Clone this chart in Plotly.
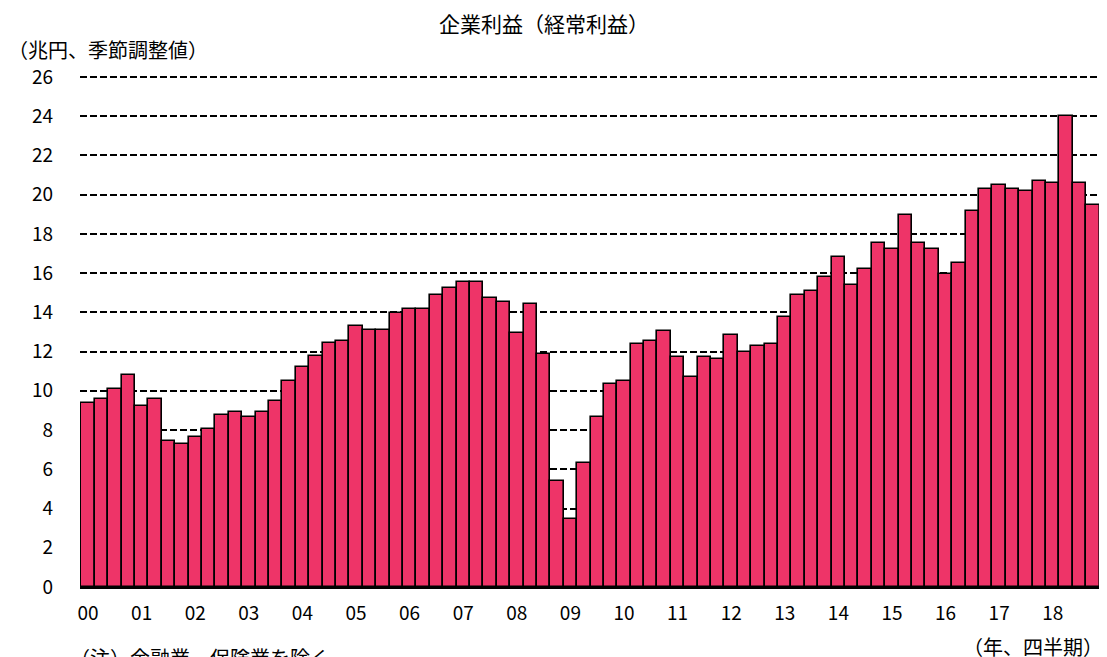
import plotly.graph_objects as go

years = ["00", "01", "02", "03", "04", "05", "06", "07", "08", "09",
         "10", "11", "12", "13", "14", "15", "16", "17", "18"]

profits = [
    9.37, 9.56, 10.09, 10.80,
    9.25, 9.56, 7.45, 7.31,
    7.64, 8.05, 8.76, 8.94,
    8.66, 8.94, 9.47, 10.49,
    11.22, 11.80, 12.42, 12.52,
    13.30, 13.11, 13.11, 13.95,
    14.15, 14.15, 14.86, 15.26,
    15.55, 15.55, 14.73, 14.54,
    12.94, 14.44, 11.90, 5.39,
    3.45, 6.31, 8.66, 10.37,
    10.48, 12.41, 12.52, 13.03,
    11.70, 10.70, 11.70, 11.60,
    12.82, 12.00, 12.31, 12.41,
    13.74, 14.86, 15.07, 15.78,
    16.80, 15.37, 16.19, 17.52,
    17.21, 18.94, 17.52, 17.21,
    15.98, 16.49, 19.15, 20.27,
    20.47, 20.27, 20.17, 20.68,
    20.58, 24.03, 20.58, 19.45,
]

y_ticks = list(range(0, 27, 2))

x_idx = list(range(len(profits)))
year_pos = [i * 4 for i in range(len(years))]

FONT = "Noto Sans CJK JP"

# figure geometry (page has an 8px body margin)
W, H = 1099, 649
L, R, T, B = 72, 6, 65, 70
PW, PH = W - L - R, H - T - B


def px(fx):
    return (fx - L) / PW


def py(fy):
    return (H - B - fy) / PH


fig = go.Figure()
fig.add_trace(go.Bar(
    x=x_idx, y=profits,
    marker=dict(color="#EE3468", line=dict(color="black", width=1.6)),
    hoverinfo="y",
))

fig.update_layout(
    width=W, height=H,
    margin=dict(l=L, r=R, t=T, b=B),
    paper_bgcolor="white", plot_bgcolor="white",
    bargap=0.0,
    showlegend=False,
    font=dict(family=FONT, color="black", size=16),
    xaxis=dict(
        range=[-0.6, 75.6],
        tickvals=year_pos, ticktext=years,
        tickfont=dict(family=FONT, size=19),
        showgrid=False, zeroline=False,
        showline=True, linecolor="black", linewidth=2,
        ticks="", ticklen=0, ticklabelstandoff=8,
    ),
    yaxis=dict(
        range=[0, 26.2],
        tickvals=y_ticks,
        tickfont=dict(family=FONT, size=19),
        showgrid=True, gridcolor="black", gridwidth=1.5, griddash="7px,3px",
        zeroline=False, showline=False,
        ticks="", ticklabelstandoff=26,
    ),
    annotations=[
        dict(text="企業利益（経常利益）", xref="paper", yref="paper",
             x=px(536), y=py(15),
             xanchor="center", yanchor="middle", showarrow=False,
             font=dict(size=21, family=FONT)),
        dict(text="（兆円、季節調整値）", xref="paper", yref="paper",
             x=px(-2), y=py(42),
             xanchor="left", yanchor="middle", showarrow=False,
             font=dict(size=20, family=FONT)),
        dict(text="（年、四半期）", xref="paper", yref="paper",
             x=px(1097), y=py(638),
             xanchor="right", yanchor="middle", showarrow=False,
             font=dict(size=20, family=FONT)),
        dict(text="（注）金融業、保険業を除く", xref="paper", yref="paper",
             x=px(60), y=py(649),
             xanchor="left", yanchor="middle", showarrow=False,
             font=dict(size=20, family=FONT)),
    ],
)

fig.write_html("out.html")
